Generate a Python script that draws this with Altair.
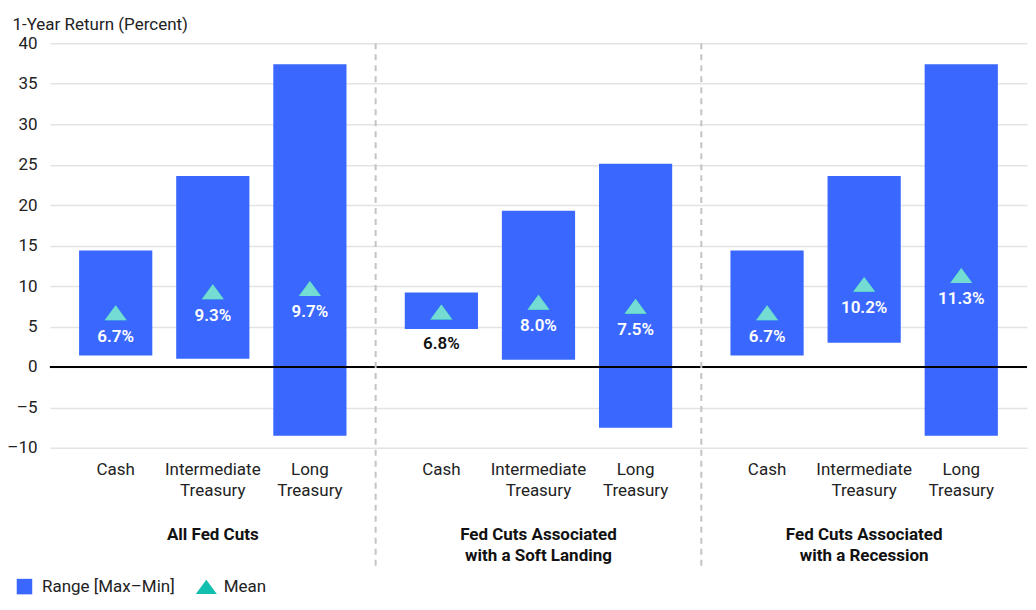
import altair as alt
import pandas as pd

groups = ["All Fed Cuts", "Fed Cuts Associated with a Soft Landing", "Fed Cuts Associated with a Recession"]
categories = ["Cash", "Intermediate Treasury", "Long Treasury"]
high = [14.4, 23.6, 37.4, 9.2, 19.3, 25.1, 14.4, 23.6, 37.4]
low = [1.4, 1.0, -8.5, 4.7, 0.9, -7.5, 1.4, 3.0, -8.5]
mean = [6.7, 9.3, 9.7, 6.8, 8.0, 7.5, 6.7, 10.2, 11.3]
y_ticks = [-10, -5, 0, 5, 10, 15, 20, 25, 30, 35, 40]
series = ["Range [Max–Min]", "Mean"]

rows = []
i = 0
for g in groups:
    for c in categories:
        rows.append({"group": g, "category": c, "high": high[i], "low": low[i],
                     "mean": mean[i], "rk": series[0], "mk": series[1]})
        i += 1
df = pd.DataFrame(rows)

BLUE = "#3A68FF"
TEAL = "#10BFAE"
LIGHT_TEAL = "#74DCD3"
FONT = "Roboto"
SQ = "M-0.74,-0.74L0.74,-0.74L0.74,0.74L-0.74,0.74Z"
TRI = "M0,-0.68L1,0.68L-1,0.68Z"
INSIDE = "datum.mean - 3 >= datum.low"

W, H = 326, 405

xenc = alt.X("category:N", sort=categories,
             scale=alt.Scale(paddingInner=0.246, paddingOuter=0.3),
             axis=alt.Axis(title=None, labelAngle=0, ticks=False, domain=False,
                           labelExpr="split(datum.label, ' ')", labelFontSize=17,
                           labelLineHeight=21, labelPadding=14, labelBaseline="top",
                           labelColor="#222", labelFont=FONT))
yscale = alt.Scale(domain=[-10, 40], nice=False)

base = alt.Chart().encode(x=xenc)

bars = base.mark_bar().encode(
    y=alt.Y("high:Q", scale=yscale,
            axis=alt.Axis(title="1-Year Return (Percent)", values=y_ticks, ticks=False,
                          domain=False, labelFontSize=17, labelPadding=13,
                          labelExpr="replace(datum.label, '−', '–')",
                          labelColor="#222", labelFont=FONT,
                          gridColor="#e3e3e3", gridWidth=1.5,
                          titleAngle=0, titleAlign="left", titleBaseline="alphabetic",
                          titleX=-38, titleY=-14, titleFontSize=17,
                          titleFontWeight="normal", titleColor="#222", titleFont=FONT)),
    y2="low:Q",
    color=alt.Color("rk:N", scale=alt.Scale(domain=series, range=[BLUE, TEAL]),
                    legend=alt.Legend(title=None)),
)

zero = alt.Chart().mark_rule(color="black", strokeWidth=2).encode(y=alt.datum(0))

sep = alt.Chart().transform_filter(
    alt.FieldOneOfPredicate(field="group", oneOf=groups[1:])
).transform_filter(
    alt.FieldEqualPredicate(field="category", equal=categories[0])
).mark_rule(color="#c4c4c4", strokeWidth=2, strokeDash=[6, 5]).encode(
    x=alt.value(0), y=alt.value(0), y2=alt.value(H + 118)
)

tri_legend = base.mark_point(filled=True, size=484, opacity=1).encode(
    y=alt.Y("mean:Q", scale=yscale),
    color=alt.Color("mk:N", scale=alt.Scale(domain=series, range=[BLUE, TEAL]),
                    legend=alt.Legend(title=None)),
    shape=alt.Shape("mk:N", scale=alt.Scale(domain=series, range=[SQ, TRI]),
                    legend=alt.Legend(title=None)),
)

tri = base.mark_point(filled=True, size=484, opacity=1, color=LIGHT_TEAL).encode(
    y=alt.Y("mean:Q", scale=yscale),
    shape=alt.value(TRI),
)

lab_base = base.transform_calculate(label="format(datum.mean, '.1f') + '%'")
labels_in = lab_base.transform_filter(INSIDE).mark_text(
    fontSize=17, fontWeight=600, font=FONT, baseline="middle", dy=24, color="white"
).encode(y=alt.Y("mean:Q", scale=yscale), text="label:N")
labels_out = lab_base.transform_filter("!(" + INSIDE + ")").mark_text(
    fontSize=17, fontWeight=600, font=FONT, baseline="middle", dy=32, color="#111"
).encode(y=alt.Y("mean:Q", scale=yscale), text="label:N")

layer = alt.layer(bars, zero, sep, tri_legend, tri, labels_in, labels_out).properties(width=W, height=H)

chart = layer.facet(
    data=df,
    column=alt.Column("group:N", sort=groups,
                      header=alt.Header(title=None, labelOrient="bottom",
                                        labelExpr="datum.value == 'All Fed Cuts' ? datum.value : [slice(datum.value, 0, 19), slice(datum.value, 20)]",
                                        labelFontSize=17, labelFontWeight="bold",
                                        labelFont=FONT, labelColor="#111",
                                        labelLineHeight=21, labelBaseline="top",
                                        labelPadding=28)),
    spacing=0,
    bounds="flush",
).configure_view(stroke=None).configure_legend(
    orient="none", legendX=-37, legendY=532, direction="horizontal", padding=0,
    labelFontSize=17, labelFont=FONT, labelColor="#222", symbolSize=441,
    symbolOpacity=1, columnPadding=18, labelOffset=6,
).properties(padding={"left": -2, "top": 7, "right": 0, "bottom": 0})

chart.save("out.html", embed_options={"renderer": "svg", "actions": False})
